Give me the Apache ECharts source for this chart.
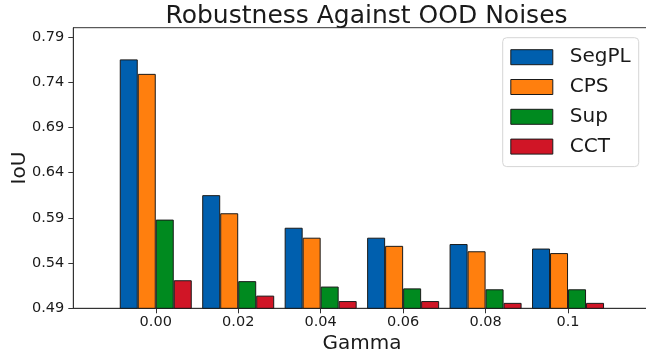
<!DOCTYPE html>
<html>
<head>
<meta charset="utf-8">
<script src="https://cdn.jsdelivr.net/npm/echarts@6/dist/echarts.min.js"></script>
<style>
  html, body { margin: 0; padding: 0; background: #fff; }
  #chart { width: 646px; height: 358px; }
</style>
</head>
<body>
<div id="chart"></div>
<script>
// Noise strength levels
const gammas = ['0.00', '0.02', '0.04', '0.06', '0.08', '0.1'];
// IoU per method
const segPL = [0.765, 0.615, 0.579, 0.568, 0.561, 0.556];
const cps   = [0.749, 0.595, 0.568, 0.559, 0.553, 0.551];
const sup   = [0.588, 0.520, 0.514, 0.512, 0.511, 0.511];
const cct   = [0.521, 0.504, 0.498, 0.498, 0.496, 0.496];
// y tick labels
const yTicks = [0.49, 0.54, 0.59, 0.64, 0.69, 0.74, 0.79];

const methods = [
  { name: 'SegPL', data: segPL, color: '#005fae' },
  { name: 'CPS',   data: cps,   color: '#ff7f0e' },
  { name: 'Sup',   data: sup,   color: '#008a1f' },
  { name: 'CCT',   data: cct,   color: '#d01526' }
];

// one empty slot on each side of the gamma groups
const axisCats = [' '].concat(gammas, ['  ']);
const pad = arr => [null].concat(arr, [null]);
const inner = i => i > 0 && i < axisCats.length - 1;

const FONT = 'DejaVu Sans';
const INK = '#1a1a1a';

const chart = echarts.init(document.getElementById('chart'), null, { renderer: 'canvas' });
chart.setOption({
  backgroundColor: '#ffffff',
  animation: false,
  title: {
    text: 'Robustness Against OOD Noises',
    left: 361.5,
    top: -1,
    textAlign: 'center',
    textStyle: { fontFamily: FONT, fontSize: 25, fontWeight: 'normal', color: INK }
  },
  legend: {
    orient: 'vertical',
    left: 502.7,
    top: 37.7,
    padding: [9.5, 8, 10, 7.6],
    itemWidth: 42,
    itemHeight: 15,
    itemGap: 9.8,
    backgroundColor: '#ffffff',
    borderColor: '#d6d6d6',
    borderWidth: 1,
    borderRadius: 4,
    icon: 'rect',
    itemStyle: { borderColor: '#1a1a1a', borderWidth: 1 },
    textStyle: { fontFamily: FONT, fontSize: 20, color: INK, padding: [0, 0, 0, 12] },
    data: methods.map(m => m.name)
  },
  grid: {
    left: 73.3,
    top: 27.7,
    width: 577.2,
    bottom: 49.7,
    outerBoundsMode: 'none',
    containLabel: false,
    show: true,
    borderColor: '#333',
    borderWidth: 1
  },
  xAxis: {
    type: 'category',
    data: axisCats,
    boundaryGap: false,
    name: 'Gamma',
    nameLocation: 'middle',
    nameGap: 25,
    nameMoveOverlap: false,
    nameTextStyle: { fontFamily: FONT, fontSize: 20, color: INK },
    axisLine: { show: true, lineStyle: { color: '#333', width: 1 } },
    axisTick: { show: true, length: 5, interval: (i) => inner(i), lineStyle: { color: '#333' } },
    axisLabel: { interval: (i) => inner(i), margin: 6, fontFamily: FONT, fontSize: 14.5, color: INK },
    splitLine: { show: false }
  },
  yAxis: {
    type: 'value',
    min: 0.49,
    max: 0.80,
    name: 'IoU',
    nameLocation: 'middle',
    nameRotate: 90,
    nameGap: 44,
    nameMoveOverlap: false,
    nameTextStyle: { fontFamily: FONT, fontSize: 20, color: INK },
    axisLine: { show: true, lineStyle: { color: '#333', width: 1 } },
    axisTick: { show: true, length: 5, customValues: yTicks, lineStyle: { color: '#333' } },
    axisLabel: {
      customValues: yTicks,
      margin: 9,
      fontFamily: FONT,
      fontSize: 14.5,
      color: INK,
      formatter: v => Number(v).toFixed(2)
    },
    splitLine: { show: false }
  },
  series: methods.map(m => ({
    name: m.name,
    type: 'bar',
    data: pad(m.data),
    barWidth: 18,
    barGap: '0%',
    clip: true,
    itemStyle: { color: m.color, borderColor: '#1a1a1a', borderWidth: 1 }
  }))
});
</script>
</body>
</html>
